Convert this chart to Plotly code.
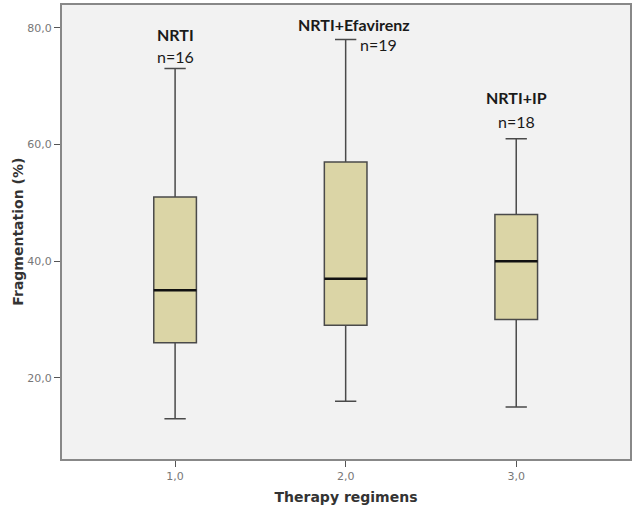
import plotly.graph_objects as go

categories = [1.0, 2.0, 3.0]
group_names = ["NRTI", "NRTI+Efavirenz", "NRTI+IP"]
group_n = [16, 19, 18]
lower = [13, 16, 15]
q1 = [26, 29, 30]
median = [35, 37, 40]
q3 = [51, 57, 48]
upper = [73, 78, 61]
y_ticks = [20, 40, 60, 80]
x_ticks = [1.0, 2.0, 3.0]

def fmt(v):
    return f"{v:.1f}".replace(".", ",")

box_w = 0.25
fig = go.Figure()
fig.add_trace(go.Box(
    x=categories, q1=q1, median=median, q3=q3,
    lowerfence=lower, upperfence=upper,
    width=box_w, whiskerwidth=0.5,
    fillcolor="#dbd5a6", line=dict(color="#4a4a4a", width=1.5),
    boxpoints=False, showlegend=False, hoverinfo="skip",
))
# bold median lines
for xc, m in zip(categories, median):
    fig.add_trace(go.Scatter(
        x=[xc - box_w / 2, xc + box_w / 2], y=[m, m], mode="lines",
        line=dict(color="#111111", width=2.5), showlegend=False, hoverinfo="skip",
    ))

# labels
name_y = [78.8, 80.5, 68.0]
n_y = [75.0, 77.1, 63.9]
name_dx = [0.0, 0.05, 0.0]
n_dx = [0.0, 0.19, 0.0]
for xc, nm, n, ny_, nny, dx1, dx2 in zip(categories, group_names, group_n, name_y, n_y, name_dx, n_dx):
    fig.add_annotation(x=xc + dx1, y=ny_, text=f"<b>{nm}</b>",
                       showarrow=False, font=dict(family="Lato", size=16, color="#1a1a1a"))
    fig.add_annotation(x=xc + dx2, y=nny, text=f"n={n}",
                       showarrow=False, font=dict(family="Lato", size=16, color="#1a1a1a"))

fig.add_annotation(xref="paper", yref="paper", x=-0.078, y=0.5, text="<b>Fragmentation (%)</b>",
                   textangle=-90, showarrow=False, xanchor="center", yanchor="middle",
                   font=dict(family="DejaVu Sans", size=14, color="#333333"))

fig.update_layout(
    width=636, height=513,
    margin=dict(l=62, r=6, t=5, b=54, autoexpand=False),
    paper_bgcolor="white", plot_bgcolor="#f2f2f2",
    xaxis=dict(range=[0.337, 3.667], tickvals=x_ticks, ticktext=[fmt(v) for v in x_ticks],
               ticks="outside", ticklen=6, tickcolor="#555", showgrid=False, zeroline=False,
               showline=True, linecolor="#888", linewidth=2, mirror=True,
               tickfont=dict(family="DejaVu Sans", size=11, color="#777"),
               title=dict(text="<b>Therapy regimens</b>", standoff=10,
                          font=dict(family="DejaVu Sans", size=14, color="#333"))),
    yaxis=dict(range=[6.1, 83.9], tickvals=y_ticks, ticktext=[fmt(v) for v in y_ticks],
               ticks="outside", ticklen=6, tickcolor="#555", showgrid=False, zeroline=False,
               showline=True, linecolor="#888", linewidth=2, mirror=True,
               tickfont=dict(family="DejaVu Sans", size=11, color="#777")),
)
fig.write_html("out.html", post_script="document.body.style.margin='0';",
               config={"displayModeBar": False})
